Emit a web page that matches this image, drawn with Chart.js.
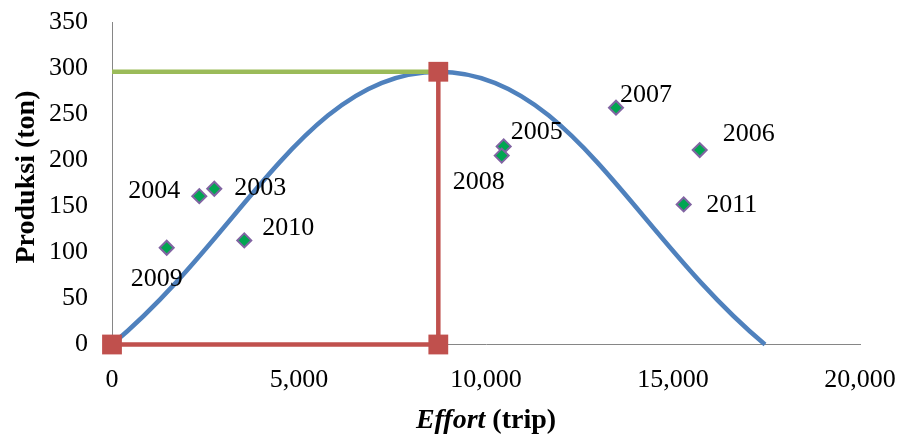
<!DOCTYPE html>
<html>
<head>
<meta charset="utf-8">
<title>Produksi vs Effort</title>
<script src="https://cdn.jsdelivr.net/npm/chart.js@4/dist/chart.umd.min.js"></script>
<style>
    html, body { margin: 0; padding: 0; background: #fff; }
    #wrap { width: 902px; height: 435px; }
</style>
</head>
<body>
<div id="wrap"><canvas id="msyChart" width="902" height="435"></canvas></div>
<script>
// Observed catch / effort per year
const years = ['2003', '2004', '2005', '2006', '2007', '2008', '2009', '2010', '2011'];
const effortTrips = [2735, 2334, 10473, 15714, 13476, 10420, 1463, 3537, 15286];
const productionTon = [169, 161, 215, 211, 257, 205, 105, 113, 152];

// Surplus production curve
const curveEffort = [0, 8725, 17460];
const curveProduction = [0, 296, 0];

// MSY guide lines
const fmsyEffort = [0, 8725, 8725];
const fmsyProduction = [0, 0, 296];
const msyEffort = [0, 8725];
const msyProduction = [296, 296];

// Axis ticks
const xTicks = [0, 5000, 10000, 15000, 20000];
const yTicks = [0, 50, 100, 150, 200, 250, 300, 350];

// Where each year label sits relative to its marker (px)
const labelOffsets = {
    '2003': [46, -1], '2004': [-45, -5], '2005': [33, -14],
    '2006': [49, -16], '2007': [30, -13], '2008': [-23, 27],
    '2009': [-10, 31], '2010': [44, -12], '2011': [48, 1]
};

const SERIF = '"Liberation Serif", "Times New Roman", serif';

function toPoints(xs, ys) {
    return xs.map((x, i) => ({ x: x, y: ys[i] }));
}

// tick padding would otherwise grow the outer margins
function resetPadding(axis) {
    axis.paddingTop = 0;
    axis.paddingBottom = 0;
    axis.paddingLeft = 0;
    axis.paddingRight = 0;
}

// Year labels next to the scatter markers
const yearLabels = {
    id: 'yearLabels',
    afterDatasetsDraw(chart) {
        const ctx = chart.ctx;
        const xs = chart.scales.x;
        const ys = chart.scales.y;
        ctx.save();
        ctx.font = '26px ' + SERIF;
        ctx.fillStyle = '#000';
        ctx.textAlign = 'center';
        ctx.textBaseline = 'middle';
        years.forEach((yr, i) => {
            const off = labelOffsets[yr];
            const px = xs.getPixelForValue(effortTrips[i]);
            const py = ys.getPixelForValue(productionTon[i]);
            ctx.fillText(yr, px + off[0], py + off[1]);
        });
        ctx.restore();
    }
};

// Axis titles: x has mixed styles (italic "Effort" + upright "(trip)")
const axisTitles = {
    id: 'axisTitles',
    afterDraw(chart) {
        const ctx = chart.ctx;
        const area = chart.chartArea;
        const partA = 'Effort';
        const partB = ' (trip)';
        ctx.save();
        ctx.fillStyle = '#000';
        ctx.textBaseline = 'alphabetic';
        ctx.font = 'italic bold 28px ' + SERIF;
        const wA = ctx.measureText(partA).width;
        ctx.font = 'bold 28px ' + SERIF;
        const wB = ctx.measureText(partB).width;
        const left = 486 - (wA + wB) / 2;
        const baseY = area.bottom + 83;
        ctx.font = 'italic bold 28px ' + SERIF;
        ctx.fillText(partA, left, baseY);
        ctx.font = 'bold 28px ' + SERIF;
        ctx.fillText(partB, left + wA, baseY);

        // y title, rotated
        ctx.translate(27, 177);
        ctx.rotate(-Math.PI / 2);
        ctx.textAlign = 'center';
        ctx.textBaseline = 'middle';
        ctx.fillText('Produksi (ton)', 0, 0);
        ctx.restore();
    }
};

new Chart(document.getElementById('msyChart'), {
    type: 'scatter',
    data: {
        datasets: [
            {
                label: 'Data',
                data: toPoints(effortTrips, productionTon),
                pointStyle: 'rectRot',
                pointRadius: 7,
                pointHoverRadius: 7,
                pointBackgroundColor: '#00A651',
                pointBorderColor: '#8064A2',
                pointBorderWidth: 2,
                showLine: false,
                clip: false,
                order: 0
            },
            {
                label: 'Fmsy',
                data: toPoints(fmsyEffort, fmsyProduction),
                showLine: true,
                borderColor: '#C0504D',
                borderWidth: 4.5,
                pointStyle: 'rect',
                pointRadius: 14,
                pointHoverRadius: 14,
                pointBackgroundColor: '#C0504D',
                pointBorderColor: '#C0504D',
                pointBorderWidth: 0,
                tension: 0,
                clip: false,
                order: 1
            },
            {
                label: 'MSY',
                data: toPoints(msyEffort, msyProduction),
                showLine: true,
                borderColor: '#9BBB59',
                borderWidth: 4.5,
                pointRadius: 0,
                tension: 0,
                clip: false,
                order: 2
            },
            {
                label: 'Kurva',
                data: toPoints(curveEffort, curveProduction),
                showLine: true,
                borderColor: '#4F81BD',
                borderWidth: 4.5,
                pointRadius: 0,
                tension: 0.4,
                clip: false,
                order: 3
            }
        ]
    },
    options: {
        responsive: false,
        animation: false,
        events: [],
        layout: { padding: { left: 0, right: 42, top: 22, bottom: 0 } },
        plugins: {
            legend: { display: false },
            tooltip: { enabled: false }
        },
        scales: {
            x: {
                type: 'linear',
                min: xTicks[0],
                max: xTicks[xTicks.length - 1],
                afterBuildTicks: (axis) => { axis.ticks = xTicks.map(v => ({ value: v })); },
                afterFit: (axis) => { axis.height = 90.5; resetPadding(axis); },
                grid: { display: false, drawTicks: false },
                border: { display: true, color: '#868686', width: 1 },
                ticks: {
                    padding: 20,
                    color: '#000',
                    font: { family: SERIF, size: 26 },
                    callback: (v) => Number(v).toLocaleString('en-US')
                },
                title: { display: false }
            },
            y: {
                type: 'linear',
                min: yTicks[0],
                max: yTicks[yTicks.length - 1],
                afterBuildTicks: (axis) => { axis.ticks = yTicks.map(v => ({ value: v })); },
                afterFit: (axis) => { axis.width = 112; resetPadding(axis); },
                grid: { display: false, drawTicks: false },
                border: { display: true, color: '#868686', width: 1 },
                ticks: {
                    padding: 24,
                    color: '#000',
                    font: { family: SERIF, size: 26 }
                },
                title: { display: false }
            }
        }
    },
    plugins: [yearLabels, axisTitles]
});
</script>
</body>
</html>
